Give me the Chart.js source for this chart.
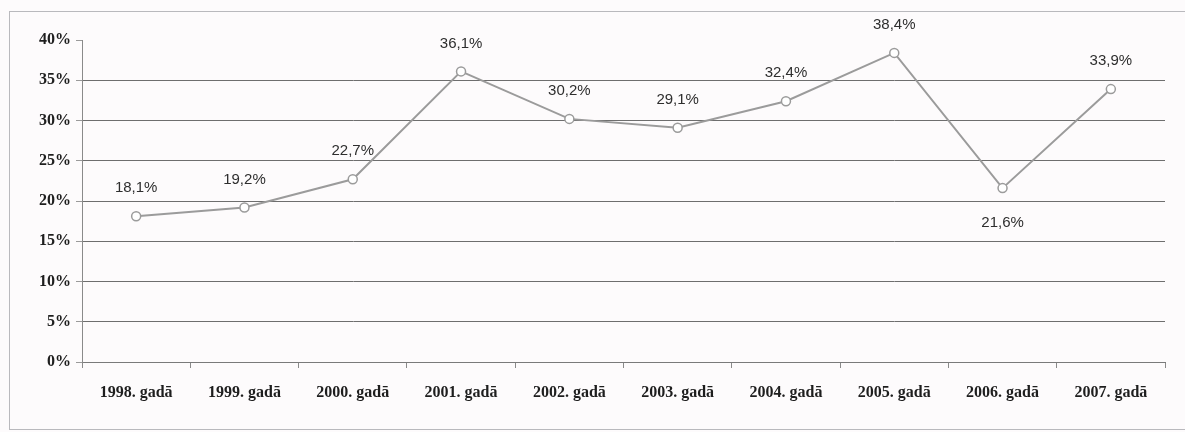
<!DOCTYPE html>
<html>
<head>
<meta charset="utf-8">
<script src="https://cdn.jsdelivr.net/npm/chart.js@4/dist/chart.umd.min.js"></script>
<style>
  html, body { margin: 0; padding: 0; background: #fdfbfc; }
  #wrap { position: relative; width: 1185px; height: 432px; overflow: hidden; }
  #frame { position: absolute; left: 9px; top: 11px; width: 1190px; height: 419px; border: 1px solid #b9b9bd; box-sizing: border-box; }
  canvas { position: absolute; left: 0; top: 0; }
</style>
</head>
<body>
<div id="wrap">
  <div id="frame"></div>
  <canvas id="c" width="1185" height="432"></canvas>
</div>
<script>
const categories = ["1998. gadā", "1999. gadā", "2000. gadā", "2001. gadā", "2002. gadā", "2003. gadā", "2004. gadā", "2005. gadā", "2006. gadā", "2007. gadā"];
const values = [18.1, 19.2, 22.7, 36.1, 30.2, 29.1, 32.4, 38.4, 21.6, 33.9];
const valueLabels = ["18,1%", "19,2%", "22,7%", "36,1%", "30,2%", "29,1%", "32,4%", "38,4%", "21,6%", "33,9%"];
const labelBelow = [false, false, false, false, false, false, false, false, true, false];
const yMin = 0, yMax = 40, yStep = 5;

const dataLabelPlugin = {
  id: 'dataLabels',
  afterDatasetsDraw(chart) {
    const ctx = chart.ctx;
    const meta = chart.getDatasetMeta(0);
    ctx.save();
    ctx.font = '15px "Liberation Sans", Arial, sans-serif';
    ctx.fillStyle = '#2e2e2e';
    ctx.textAlign = 'center';
    ctx.textBaseline = 'middle';
    meta.data.forEach((pt, i) => {
      const dy = labelBelow[i] ? 35 : -28;
      ctx.fillText(valueLabels[i], pt.x, pt.y + dy);
    });
    ctx.restore();
  }
};

new Chart(document.getElementById('c'), {
  type: 'line',
  data: {
    labels: categories,
    datasets: [{
      data: values,
      borderColor: '#9b9b9b',
      borderWidth: 2,
      pointRadius: 4.5,
      pointBackgroundColor: '#ffffff',
      pointBorderColor: '#9b9b9b',
      pointBorderWidth: 1.5,
      tension: 0,
      clip: false
    }]
  },
  options: {
    responsive: false,
    animation: false,
    devicePixelRatio: 1,
    layout: { padding: { left: 0, top: 40, right: 20, bottom: 0 } },
    plugins: { legend: { display: false }, tooltip: { enabled: false } },
    scales: {
      x: {
        type: 'category',
        offset: true,
        grid: { offset: true, drawOnChartArea: false, tickLength: 6, color: '#8a8a8a' },
        border: { color: '#7a7a7a', width: 1 },
        ticks: {
          padding: 15,
          color: '#1e1e1e',
          font: { family: '"Liberation Serif", "Times New Roman", serif', size: 16, weight: 'bold' },
          maxRotation: 0, autoSkip: false
        },
        afterFit(scale) { scale.height = 70; }
      },
      y: {
        min: yMin, max: yMax,
        grid: {
          color: (c) => (c.tick && c.tick.value === yMax) ? 'rgba(0,0,0,0)' : '#6e6e6e',
          tickColor: '#9a9a9a',
          tickLength: 6,
          lineWidth: 1
        },
        border: { color: '#8a8a8a', width: 1 },
        ticks: {
          stepSize: yStep,
          padding: 5,
          color: '#1e1e1e',
          font: { family: '"Liberation Serif", "Times New Roman", serif', size: 16, weight: 'bold' },
          callback: (v) => v + '%'
        },
        afterFit(scale) { scale.width = 82; }
      }
    }
  },
  plugins: [dataLabelPlugin]
});
</script>
</body>
</html>
